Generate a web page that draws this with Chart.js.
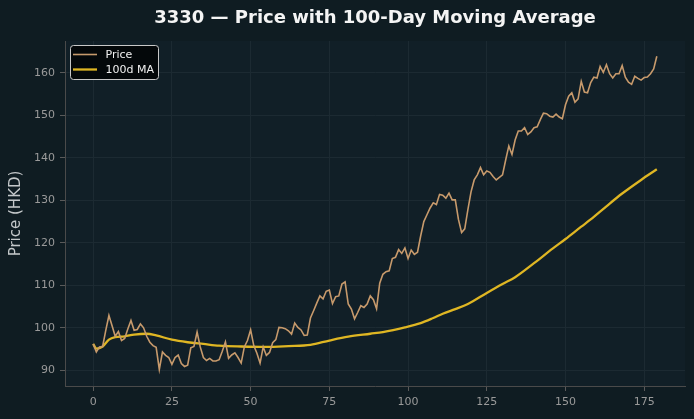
<!DOCTYPE html>
<html><head><meta charset="utf-8">
<script src="https://cdn.jsdelivr.net/npm/chart.js@4/dist/chart.umd.min.js"></script>
<style>html,body{margin:0;padding:0;background:#0f1c22;}canvas{display:block}</style>
</head><body>
<canvas id="c" width="694" height="419"></canvas>
<script>
const titleText = "3330 — Price with 100-Day Moving Average";
const yAxisTitle = "Price (HKD)";
const priceLabel = "Price";
const maLabel = "100d MA";

const priceValues = [
  96.2, 94.3, 95.5, 95.6, 99.4, 102.9, 100.5, 98.0, 99.1, 97.0,
  97.5, 99.7, 101.7, 99.4, 99.6, 100.9, 100.0, 98.0, 96.6, 95.8,
  95.4, 90.2, 94.3, 93.5, 93.0, 91.4, 93.0, 93.6, 91.6, 90.9,
  91.2, 95.3, 95.6, 99.0, 95.5, 93.0, 92.3, 92.8, 92.2, 92.2,
  92.5, 94.5, 96.7, 92.8, 93.6, 94.1, 93.0, 91.7, 95.5, 97.0,
  99.5, 95.8, 94.0, 91.7, 95.5, 93.5, 94.2, 96.5, 97.2, 100.1,
  100.0, 99.8, 99.3, 98.5, 101.1, 100.1, 99.5, 98.2, 98.3, 102.3,
  104.0, 105.8, 107.5, 106.8, 108.6, 108.9, 105.7, 107.3, 107.5, 110.3,
  110.8, 105.6, 104.4, 102.1, 103.6, 105.2, 104.8, 105.6, 107.5, 106.6,
  104.5, 110.5, 112.6, 113.2, 113.4, 116.3, 116.6, 118.4, 117.5, 118.8,
  116.3, 118.3, 117.3, 117.8, 121.6, 125.0, 126.6, 128.2, 129.4, 129.0,
  131.4, 131.2, 130.5, 131.7, 130.1, 130.1, 125.5, 122.4, 123.3, 127.8,
  132.0, 134.8, 136.0, 137.7, 136.0, 136.9, 136.6, 135.6, 134.8, 135.4,
  136.0, 139.5, 142.8, 140.8, 144.2, 146.3, 146.3, 147.1, 145.5, 146.1,
  147.1, 147.3, 149.0, 150.5, 150.4, 149.8, 149.6, 150.3, 149.6, 149.2,
  152.5, 154.5, 155.3, 153.1, 153.9, 158.0, 155.5, 155.3, 157.7, 159.0,
  158.8, 161.5, 160.1, 161.9, 159.8, 158.8, 159.8, 159.8, 161.7, 159.0,
  157.8, 157.3, 159.2, 158.7, 158.3, 158.9, 159.0, 159.8, 160.9, 163.9
];

const maDays = [0, 1, 3, 5, 7, 10, 13, 17, 20, 25, 30, 35, 40, 47, 55, 62, 69, 75, 81, 88, 92, 99, 104, 108, 111, 115, 119, 125, 130, 134, 140, 146, 150, 155, 158, 163, 168, 174, 179];
const maValues = [96.2, 95.1, 95.6, 97.2, 97.8, 98.0, 98.4, 98.6, 98.2, 97.2, 96.6, 96.2, 95.8, 95.6, 95.5, 95.7, 96.0, 97.0, 97.9, 98.6, 99.0, 100.1, 101.1, 102.3, 103.3, 104.4, 105.6, 108.2, 110.3, 111.9, 115.2, 118.7, 120.9, 123.8, 125.5, 128.6, 131.6, 134.8, 137.3];

const xTicks = [0, 25, 50, 75, 100, 125, 150, 175];
const yTicks = [90, 100, 110, 120, 130, 140, 150, 160];

const FONT = "'DejaVu Sans', sans-serif";

const bgPlugin = {
  id: 'bg',
  beforeDraw(chart) {
    const ctx = chart.ctx, a = chart.chartArea;
    ctx.save();
    ctx.fillStyle = '#0f1c22';
    ctx.fillRect(0, 0, chart.width, chart.height);
    ctx.fillStyle = '#111f27';
    ctx.fillRect(a.left, a.top, a.right - a.left, a.bottom - a.top);
    ctx.restore();
  }
};

const titlePlugin = {
  id: 'axesTitle',
  afterDraw(chart) {
    const ctx = chart.ctx, a = chart.chartArea;
    ctx.save();
    ctx.fillStyle = '#f4f4f4';
    ctx.font = 'bold 18px ' + FONT;
    ctx.textAlign = 'center';
    ctx.textBaseline = 'middle';
    ctx.fillText(titleText, (a.left + a.right) / 2, 18.5);
    ctx.restore();
  }
};

const legendPlugin = {
  id: 'boxLegend',
  afterDraw(chart) {
    const ctx = chart.ctx;
    const x = 70.5, y = 45.5, w = 88, h = 34, r = 3;
    ctx.save();
    ctx.beginPath();
    ctx.moveTo(x + r, y);
    ctx.arcTo(x + w, y, x + w, y + h, r);
    ctx.arcTo(x + w, y + h, x, y + h, r);
    ctx.arcTo(x, y + h, x, y, r);
    ctx.arcTo(x, y, x + w, y, r);
    ctx.closePath();
    ctx.fillStyle = 'rgba(3,6,8,0.92)';
    ctx.fill();
    ctx.strokeStyle = '#c8c8c8';
    ctx.lineWidth = 1;
    ctx.stroke();
    chart.data.datasets.forEach((ds, k) => {
      const ly = 54.5 + k * 15;
      ctx.strokeStyle = ds.borderColor;
      ctx.lineWidth = ds.borderWidth;
      ctx.beginPath();
      ctx.moveTo(73, ly);
      ctx.lineTo(97, ly);
      ctx.stroke();
      ctx.fillStyle = '#f0f0f0';
      ctx.font = '11px ' + FONT;
      ctx.textBaseline = 'middle';
      ctx.textAlign = 'left';
      ctx.fillText(ds.label, 105.5, ly + 0.5);
    });
    ctx.restore();
  }
};

const tickFont = { family: FONT, size: 11 };

new Chart(document.getElementById('c'), {
  type: 'line',
  data: {
    datasets: [
      {
        label: priceLabel,
        data: priceValues.map((v, i) => ({ x: i, y: v })),
        borderColor: '#c79a6c',
        borderWidth: 1.6,
        pointRadius: 0,
        tension: 0,
        fill: false
      },
      {
        label: maLabel,
        data: maDays.map((d, k) => ({ x: d, y: maValues[k] })),
        borderColor: '#dfb623',
        borderWidth: 2.3,
        pointRadius: 0,
        cubicInterpolationMode: 'monotone',
        fill: false
      }
    ]
  },
  options: {
    responsive: false,
    animation: false,
    devicePixelRatio: 1,
    layout: { padding: { left: 0, right: 9, top: 41, bottom: 0 } },
    plugins: {
      legend: { display: false },
      tooltip: { enabled: false },
      title: { display: false }
    },
    scales: {
      x: {
        type: 'linear',
        min: -8.95,
        max: 187.95,
        afterBuildTicks: s => { s.ticks = xTicks.map(v => ({ value: v })); },
        afterFit: s => { s.height = 33; },
        ticks: { color: '#9a9a9a', font: tickFont, padding: 5, maxRotation: 0, autoSkip: false },
        grid: { color: '#1c2a32', tickColor: '#5a5a5a', tickLength: 5, lineWidth: 1 },
        border: { color: '#4a4a4a', width: 1 }
      },
      y: {
        type: 'linear',
        min: 86.3,
        max: 167.5,
        afterBuildTicks: s => { s.ticks = yTicks.map(v => ({ value: v })); },
        afterFit: s => { s.width = 65; },
        ticks: { color: '#9a9a9a', font: tickFont, padding: 5, autoSkip: false },
        grid: { color: '#1c2a32', tickColor: '#5a5a5a', tickLength: 5, lineWidth: 1 },
        border: { color: '#4a4a4a', width: 1 },
        title: {
          display: true,
          text: yAxisTitle,
          color: '#c4c8ca',
          font: { family: FONT, size: 15 },
          padding: { top: 7, bottom: 0 }
        }
      }
    }
  },
  plugins: [bgPlugin, titlePlugin, legendPlugin]
});
</script>
</body></html>
